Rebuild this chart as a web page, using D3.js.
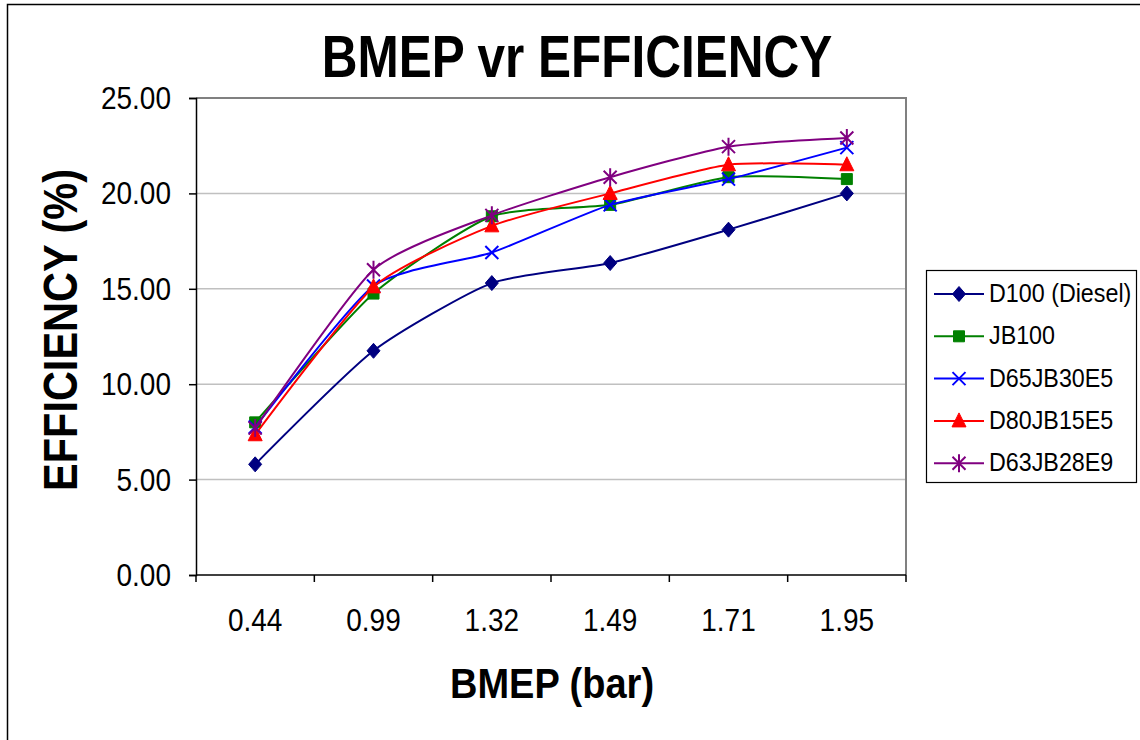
<!DOCTYPE html>
<html>
<head>
<meta charset="utf-8">
<script src="https://cdn.jsdelivr.net/npm/d3@7"></script>
<style>
  body { margin: 0; background: #fff; }
  text { font-family: "Liberation Sans", Arial, sans-serif; fill: #000; }
</style>
</head>
<body>
<div id="chart"></div>
<script>
// data
const bmep = ["0.44", "0.99", "1.32", "1.49", "1.71", "1.95"]
const seriesNames = ["D100 (Diesel)", "JB100", "D65JB30E5", "D80JB15E5", "D63JB28E9"]
const d100 = [5.8, 11.75, 15.3, 16.35, 18.1, 20.0]
const jb100 = [8.0, 14.75, 18.8, 19.4, 20.85, 20.75]
const d65jb30e5 = [7.75, 15.15, 16.9, 19.4, 20.75, 22.4]
const d80jb15e5 = [7.35, 15.1, 18.3, 20.0, 21.5, 21.5]
const d63jb28e9 = [7.7, 16.0, 18.85, 20.85, 22.45, 22.9]
const yTicks = [0, 5, 10, 15, 20, 25]

const seriesValues = [d100, jb100, d65jb30e5, d80jb15e5, d63jb28e9]
const colors = ["#000080", "#008000", "#0000ff", "#ff0000", "#800080"]
const symbols = ["diamond", "square", "cross", "triangle", "star"]

const totalWidth = 1140
const totalHeight = 740
const margins = { left: 196, top: 98, right: 234, bottom: 165 }
const width = totalWidth - margins.left - margins.right
const height = totalHeight - margins.top - margins.bottom

const svg = d3.select("#chart")
    .append("svg")
    .attr("width", totalWidth)
    .attr("height", totalHeight)

// outer chart border
svg.append("rect")
    .attr("x", 7.5).attr("y", 4.5)
    .attr("width", 1140).attr("height", 760)
    .attr("fill", "none").attr("stroke", "#000").attr("stroke-width", 1.5)

const g = svg.append("g")
    .attr("transform", `translate(${margins.left}, ${margins.top})`)

const x = d3.scaleBand().domain(bmep).range([0, width])
const y = d3.scaleLinear().domain([0, 25]).range([height, 0])

// text with a little vertical stretch, like the original picture
const stretch = (sel, tx, ty, k, rot) =>
    sel.attr("transform", `translate(${tx}, ${ty})${rot ? ` rotate(${rot})` : ""} scale(1, ${k})`)

// gridlines
g.selectAll(".grid")
    .data(yTicks.filter((d) => d > 0 && d < 25))
    .enter()
    .append("line")
    .attr("x1", 0).attr("x2", width)
    .attr("y1", (d) => y(d)).attr("y2", (d) => y(d))
    .attr("stroke", "#c0c0c0").attr("stroke-width", 1.5)

// plot frame top / right
g.append("path")
    .attr("d", `M0,${y(25)}H${width}V${height}`)
    .attr("fill", "none").attr("stroke", "#808080").attr("stroke-width", 2)

// y axis
const yAxis = g.append("g")
    .call(d3.axisLeft(y).tickValues(yTicks).tickSize(7).tickFormat(""))
yAxis.select(".domain").attr("stroke-width", 1.5)
yAxis.selectAll(".tick line").attr("stroke-width", 1.5)

g.selectAll(".ylab")
    .data(yTicks)
    .enter()
    .append("text")
    .attr("class", "ylab")
    .attr("text-anchor", "end")
    .attr("font-size", 28)
    .text((d) => d3.format(".2f")(d))
    .each(function (d) { stretch(d3.select(this), -25, y(d) + 11, 1.15) })

// x axis, ticks on category boundaries
const bounds = bmep.map((d) => x(d)).concat([width])
const xAxis = g.append("g").attr("transform", `translate(0, ${height})`)
xAxis.append("line")
    .attr("x1", 0).attr("x2", width)
    .attr("stroke", "#000").attr("stroke-width", 1.5)
xAxis.selectAll(".xt")
    .data(bounds)
    .enter()
    .append("line")
    .attr("x1", (d) => d).attr("x2", (d) => d)
    .attr("y1", 0).attr("y2", 7)
    .attr("stroke", "#000").attr("stroke-width", 1.5)

g.selectAll(".xlab")
    .data(bmep)
    .enter()
    .append("text")
    .attr("class", "xlab")
    .attr("text-anchor", "middle")
    .attr("font-size", 28)
    .text((d) => d)
    .each(function (d) { stretch(d3.select(this), x(d) + x.bandwidth() / 2, height + 56, 1.15) })

// titles
stretch(svg.append("text")
    .attr("text-anchor", "middle")
    .attr("font-size", 49.5)
    .attr("font-weight", "bold")
    .text("BMEP vr EFFICIENCY"), 577, 77, 1.19)

stretch(svg.append("text")
    .attr("text-anchor", "middle")
    .attr("font-size", 38)
    .attr("font-weight", "bold")
    .text("BMEP (bar)"), 552, 698, 1.1)

stretch(svg.append("text")
    .attr("text-anchor", "middle")
    .attr("font-size", 41.5)
    .attr("font-weight", "bold")
    .text("EFFICIENCY (%)"), 77, 330, 1.17, -90)

// marker shapes
const markerPath = (type) => {
    switch (type) {
        case "diamond": return "M0,-7.5L6.5,0L0,7.5L-6.5,0Z"
        case "square": return "M-5.5,-5.5H5.5V5.5H-5.5Z"
        case "triangle": return "M0,-8L7,6H-7Z"
        case "cross": return "M-6.5,-6.5L6.5,6.5M6.5,-6.5L-6.5,6.5"
        case "star": return "M-6.5,-6.5L6.5,6.5M6.5,-6.5L-6.5,6.5M0,-9V9"
    }
}
const drawMarker = (sel, i) => {
    const filled = symbols[i] !== "cross" && symbols[i] !== "star"
    sel.append("path")
        .attr("d", markerPath(symbols[i]))
        .attr("fill", filled ? colors[i] : "none")
        .attr("stroke", colors[i])
        .attr("stroke-width", filled ? 1 : 2)
}

// series
const line = d3.line()
    .x((d, i) => x(bmep[i]) + x.bandwidth() / 2)
    .y((d) => y(d))
    .curve(d3.curveCardinal.tension(0.4))

seriesValues.forEach((vals, i) => {
    const sg = g.append("g")
    sg.append("path")
        .attr("d", line(vals))
        .attr("fill", "none")
        .attr("stroke", colors[i])
        .attr("stroke-width", 2)
    vals.forEach((v, j) => {
        const m = sg.append("g")
            .attr("transform", `translate(${x(bmep[j]) + x.bandwidth() / 2}, ${y(v)})`)
        drawMarker(m, i)
    })
})

// legend
const legend = svg.append("g").attr("transform", "translate(926, 270)")
legend.append("rect")
    .attr("x", 0.5).attr("y", 0.5)
    .attr("width", 210).attr("height", 212)
    .attr("fill", "#fff").attr("stroke", "#000").attr("stroke-width", 1.2)

const rows = legend.selectAll(".row")
    .data(seriesNames)
    .enter()
    .append("g")
    .attr("transform", (d, i) => `translate(0, ${24 + i * 42.3})`)

rows.append("line")
    .attr("x1", 8).attr("x2", 58)
    .attr("stroke", (d, i) => colors[i])
    .attr("stroke-width", 2)
rows.each(function (d, i) {
    drawMarker(d3.select(this).append("g").attr("transform", "translate(33, 0)"), i)
})
rows.append("text")
    .attr("font-size", 23.3)
    .text((d) => d)
    .each(function () { stretch(d3.select(this), 63, 8, 1.12) })
</script>
</body>
</html>
